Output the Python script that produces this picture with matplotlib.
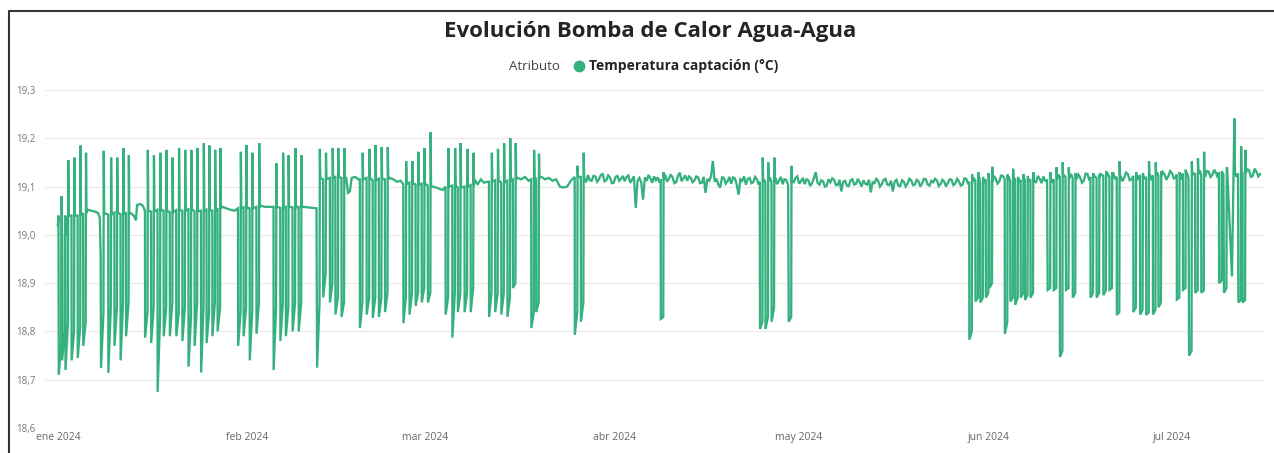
import numpy as np
import matplotlib
matplotlib.use("Agg")
import matplotlib.pyplot as plt
from matplotlib.lines import Line2D

plt.rcParams['font.family'] = ['Open Sans', 'DejaVu Sans']

verde = '#35b07f'

meses = ['2024-01-01', '2024-02-01', '2024-03-01', '2024-04-01',
         '2024-05-01', '2024-06-01', '2024-07-01']
meses_txt = ['ene 2024', 'feb 2024', 'mar 2024', 'abr 2024',
             'may 2024', 'jun 2024', 'jul 2024']
y_ticks = [18.6, 18.7, 18.8, 18.9, 19.0, 19.1, 19.2, 19.3]

# tramos estables (dias desde el 1 de enero, temperatura)
meseta_dia = [0.0, 0.1,
              4.9, 5.5, 6.1, 6.6, 6.85, 7.0,
              11.9, 12.4, 12.75, 12.95, 13.5, 13.9,
              26.9, 27.5, 28.2, 28.9,
              33.2, 33.9, 34.6,
              40.1, 40.8, 41.5, 42.25,
              47.1, 47.4, 47.7, 48.0, 48.6, 49.1,
              54.2, 54.8, 55.4, 56.0,
              61.2, 61.8, 62.4, 62.9,
              68.2, 68.6, 69.1, 69.6, 70.1,
              75.1, 75.7, 76.3, 76.9,
              79.0, 79.6, 80.2, 80.8, 81.4, 82.0, 82.6, 83.2, 83.8]
meseta_temp = [19.02, 19.04,
               19.052, 19.05, 19.048, 19.045, 19.035, 18.95,
               19.045, 19.04, 19.03, 19.062, 19.064, 19.06,
               19.058, 19.055, 19.052, 19.05,
               19.06, 19.058, 19.058,
               19.058, 19.057, 19.056, 19.055,
               19.118, 19.087, 19.09, 19.118, 19.12, 19.115,
               19.118, 19.115, 19.11, 19.112,
               19.1, 19.098, 19.095, 19.093,
               19.112, 19.105, 19.115, 19.108, 19.11,
               19.118, 19.115, 19.12, 19.112,
               19.12, 19.115, 19.118, 19.112, 19.115, 19.1, 19.098, 19.1, 19.112]

# banda con ruido desde el dia 86: una lectura cada 0.6 dias (a) y otra desfasada 0.3 dias (b)
ruido_paso = 0.6
ruido_a_ini = 86.0
ruido_a = [
    19.118, 19.124, 19.112, 19.121, 19.115, 19.126, 19.113, 19.119, 19.108, 19.122,
    19.116, 19.111, 19.123, 19.114, 19.056, 19.118, 19.073, 19.112, 19.117, 19.121,
    19.119, 19.113, 19.125, 19.116, 19.12, 19.109, 19.129, 19.117, 19.112, 19.118,
    19.113, 19.119, 19.108, 19.087, 19.112, 19.153, 19.116, 19.098, 19.118, 19.111,
    19.106, 19.117, 19.083, 19.112, 19.104, 19.118, 19.109, 19.115, 19.11, 19.113,
    19.11, 19.108, 19.118, 19.112, 19.105, 19.114, 19.116, 19.109, 19.121, 19.111,
    19.105, 19.113, 19.107, 19.13, 19.104, 19.111, 19.102, 19.109, 19.114, 19.103,
    19.09, 19.112, 19.101, 19.115, 19.106, 19.109, 19.113, 19.104, 19.088, 19.107,
    19.112, 19.105, 19.116, 19.103, 19.09, 19.114, 19.101, 19.11, 19.106, 19.113,
    19.104, 19.111, 19.107, 19.115, 19.102, 19.109, 19.113, 19.105, 19.11, 19.108,
    19.114, 19.106, 19.111, 19.104, 19.116, 19.11, 19.118, 19.107, 19.115, 19.112,
    19.12, 19.109, 19.117, 19.111, 19.122, 19.108, 19.116, 19.113, 19.121, 19.11,
    19.118, 19.112, 19.124, 19.109, 19.116, 19.121, 19.113, 19.119, 19.111, 19.125,
    19.114, 19.12, 19.108, 19.123, 19.115, 19.119, 19.112, 19.126, 19.117, 19.121,
    19.113, 19.124, 19.116, 19.12, 19.128, 19.114, 19.122, 19.118, 19.126, 19.115,
    19.123, 19.119, 19.127, 19.116, 19.124, 19.12, 19.129, 19.117, 19.125, 19.121,
    19.128, 19.118, 19.126, 19.122, 19.13, 19.119, 19.127, 19.123, 19.129, 19.12,
    19.131, 19.124, 19.128, 19.133, 19.125, np.nan, np.nan, np.nan, 19.127, 19.133,
    19.125, 19.134, 19.122, 19.131, 19.126]
ruido_b_ini = 86.3
ruido_b = [
    19.109, 19.113, 19.122, 19.11, 19.124, 19.111, 19.123, 19.107, 19.12, 19.112,
    19.122, 19.12, 19.108, 19.121, 19.112, 19.109, 19.119, 19.124, 19.108, 19.113,
    19.108, 19.121, 19.11, 19.124, 19.107, 19.122, 19.111, 19.123, 19.121, 19.109,
    19.121, 19.107, 19.12, 19.116, 19.121, 19.11, 19.104, 19.119, 19.106, 19.12,
    19.119, 19.104, 19.115, 19.121, 19.116, 19.107, 19.12, 19.104, 19.119, 19.104,
    19.119, 19.116, 19.105, 19.12, 19.115, 19.103, 19.107, 19.118, 19.106, 19.118,
    19.115, 19.101, 19.117, 19.108, 19.113, 19.1, 19.115, 19.117, 19.103, 19.114,
    19.11, 19.102, 19.113, 19.104, 19.116, 19.1, 19.106, 19.114, 19.109, 19.116,
    19.1, 19.114, 19.104, 19.112, 19.11, 19.102, 19.113, 19.1, 19.116, 19.103,
    19.114, 19.1, 19.116, 19.104, 19.112, 19.116, 19.101, 19.114, 19.1, 19.115,
    19.103, 19.116, 19.102, 19.117, 19.105, 19.119, 19.104, 19.12, 19.105, 19.121,
    19.108, 19.122, 19.106, 19.123, 19.109, 19.121, 19.105, 19.124, 19.108, 19.122,
    19.109, 19.125, 19.11, 19.122, 19.107, 19.112, 19.126, 19.108, 19.124, 19.113,
    19.124, 19.109, 19.126, 19.111, 19.125, 19.108, 19.127, 19.113, 19.124, 19.11,
    19.126, 19.112, 19.128, 19.109, 19.117, 19.127, 19.111, 19.129, 19.113, 19.127,
    19.114, 19.13, 19.115, 19.128, 19.113, 19.131, 19.116, 19.13, 19.114, 19.132,
    19.117, 19.131, 19.115, 19.133, 19.118, 19.132, 19.116, 19.134, 19.117, 19.132,
    19.12, 19.135, 19.118, 19.124, 19.136, np.nan, np.nan, 19.12, 19.135, 19.121,
    19.136, 19.12, 19.137, 19.121, np.nan]

# ciclos de la bomba: dia de la bajada, minimo, valor antes del pico, pico, nivel tras el pico
ciclo_dia = [0.15, 0.7, 1.25, 2.25, 3.25, 4.15,
             7.05, 8.25, 9.25, 10.25, 11.15,
             14.25, 15.25, 16.3, 17.3, 18.3, 19.35, 20.35, 21.35, 22.35, 23.4, 24.3, 25.25, 26.1,
             29.45, 30.35, 31.35, 32.45,
             35.25, 36.35, 37.25, 38.35, 39.35,
             42.35, 43.35, 44.45, 45.35, 46.35,
             49.35, 50.45, 51.45, 52.45, 53.45,
             56.45, 57.45, 58.45, 59.45, 60.45,
             63.35, 64.45, 65.35, 66.45, 67.45,
             70.45, 71.45, 72.45, 73.45, 74.35,
             77.35, 78.15,
             84.45, 85.45,
             98.5,
             114.7, 115.6, 116.6,
             119.4,
             148.9, 149.9, 150.7, 151.6, 152.2,
             154.7, 155.6, 156.4, 157.3, 158.0, 158.9,
             161.7, 162.7, 163.7, 164.7, 165.8,
             168.7, 169.7, 170.8, 171.8, 173.0,
             175.7, 176.8, 177.8, 178.9, 179.8,
             182.8, 183.8, 184.8, 185.8, 186.8,
             189.7, 190.5,
             192.85, 193.55]
ciclo_min = [18.71, 18.74, 18.72, 18.74, 18.745, 18.77,
             18.724, 18.714, 18.77, 18.74, 18.79,
             18.787, 18.776, 18.675, 18.79, 18.79, 18.79, 18.78, 18.727, 18.77, 18.715, 18.776, 18.79, 18.8,
             18.77, 18.79, 18.74, 18.795,
             18.72, 18.78, 18.79, 18.8, 18.8,
             18.725, 18.87, 18.86, 18.835, 18.83,
             18.807, 18.835, 18.828, 18.83, 18.84,
             18.817, 18.835, 18.853, 18.86, 18.86,
             18.835, 18.787, 18.84, 18.84, 18.84,
             18.83, 18.84, 18.835, 18.83, 18.89,
             18.807, 18.84,
             18.793, 18.82,
             18.826,
             18.805, 18.805, 18.82,
             18.82,
             18.783, 18.862, 18.86, 18.87, 18.89,
             18.795, 18.862, 18.855, 18.87, 18.865, 18.87,
             18.886, 18.886, 18.747, 18.886, 18.87,
             18.87, 18.87, 18.875, 18.886, 18.834,
             18.84, 18.835, 18.834, 18.835, 18.85,
             18.866, 18.886, 18.75, 18.88, 18.88,
             18.9, 18.88,
             18.86, 18.86]
ciclo_fin = [18.78, 18.8, 18.82, 18.8, 18.81, 18.82,
             18.84, 18.85, 18.85, 18.86, 18.86,
             18.84, 18.85, 18.83, 18.85, 18.86, 18.84, 18.85, 18.83, 18.86, 18.85, 18.84, 18.86, 18.85,
             18.84, 18.85, 18.84, 18.86,
             18.85, 18.86, 18.85, 18.86, 18.86,
             18.86, 18.92, 18.9, 18.87, 18.86,
             18.86, 18.87, 18.87, 18.87, 18.88,
             18.87, 18.88, 18.88, 18.89, 18.88,
             18.87, 18.88, 18.88, 18.88, 18.89,
             18.88, 18.88, 18.88, 18.87, 18.9,
             18.84, 18.86,
             18.84, 18.86,
             18.83,
             18.82, 18.83, 18.85,
             18.83,
             18.8, 18.87, 18.87, 18.88, 18.9,
             18.82, 18.87, 18.87, 18.88, 18.875, 18.88,
             18.89, 18.89, 18.76, 18.89, 18.88,
             18.88, 18.88, 18.885, 18.89, 18.84,
             18.85, 18.845, 18.84, 18.845, 18.86,
             18.87, 18.89, 18.76, 18.885, 18.885,
             18.905, 18.89,
             18.865, 18.865]
ciclo_pico = [19.08, 19.0, 19.155, 19.16, 19.185, 19.17,
              19.174, 19.16, 19.16, 19.18, 19.165,
              19.176, 19.165, 19.17, 19.176, 19.16, 19.18, 19.176, 19.176, 19.18, 19.19, 19.185, 19.176, 19.18,
              19.172, 19.186, 19.17, 19.19,
              19.148, 19.17, 19.165, 19.18, 19.165,
              19.178, 19.17, 19.18, 19.18, 19.18,
              19.17, 19.178, 19.186, 19.182, 19.182,
              19.153, 19.153, 19.172, 19.18, 19.213,
              19.18, 19.18, 19.19, 19.178, 19.17,
              19.17, 19.178, 19.19, 19.2, 19.19,
              19.176, 19.168,
              19.143, 19.17,
              19.13,
              19.16, 19.15, 19.16,
              19.143,
              19.125, 19.13, 19.12, 19.128, 19.141,
              19.125, 19.137, 19.12, 19.126, 19.122, 19.13,
              19.13, 19.14, 19.15, 19.14, 19.128,
              19.128, 19.125, 19.132, 19.13, 19.152,
              19.13, 19.128, 19.152, 19.15, 19.132,
              19.13, 19.135, 19.152, 19.159, 19.172,
              19.13, 19.14,
              19.183, 19.176]
ciclo_base = [19.04, 19.0, 19.04, 19.04, 19.04, 19.045,
              19.045, 19.042, 19.046, 19.043, 19.045,
              19.05, 19.048, 19.052, 19.05, 19.047, 19.051, 19.05, 19.053, 19.049, 19.05, 19.052, 19.05, 19.055,
              19.055, 19.057, 19.055, 19.058,
              19.058, 19.056, 19.058, 19.057, 19.058,
              19.118, 19.115, 19.118, 19.12, 19.118,
              19.115, 19.118, 19.113, 19.116, 19.115,
              19.105, 19.108, 19.104, 19.106, 19.102,
              19.1, 19.102, 19.098, 19.1, 19.103,
              19.11, 19.113, 19.108, 19.112, 19.115,
              19.115, 19.118,
              19.12, 19.12,
              19.115,
              19.11, 19.11, 19.11,
              19.11,
              19.11, 19.112, 19.108, 19.113, 19.11,
              19.115, 19.112, 19.117, 19.114, 19.116, 19.115,
              19.118, 19.115, 19.12, 19.117, 19.118,
              19.12, 19.118, 19.122, 19.119, 19.12,
              19.122, 19.124, 19.12, 19.123, 19.122,
              19.125, 19.127, 19.124, 19.126, 19.125,
              19.13, 19.138,
              19.128, 19.128]

# hueco de datos a mitad de julio
tramo_dia = [191.8, 192.2, 192.3]
tramo_temp = [18.914, 19.241, 19.13]

# --- montar la serie ---
ruido_a_dia = ruido_a_ini + ruido_paso * np.arange(len(ruido_a))
ruido_b_dia = ruido_b_ini + ruido_paso * np.arange(len(ruido_b))
m_dia = np.concatenate([meseta_dia, ruido_a_dia, ruido_b_dia])
m_temp = np.concatenate([meseta_temp, ruido_a, ruido_b])
ok = ~np.isnan(m_temp)
for d in ciclo_dia:
    ok &= ~((m_dia >= d - 0.02) & (m_dia < d + 0.55))
ok &= ~((m_dia > tramo_dia[0] - 0.1) & (m_dia < tramo_dia[-1] + 0.05))
m_dia, m_temp = m_dia[ok], m_temp[ok]

xs, ys = list(m_dia), list(m_temp)
for d, lo, fi, pk, b in zip(ciclo_dia, ciclo_min, ciclo_fin, ciclo_pico, ciclo_base):
    if not np.any((m_dia > d - 0.15) & (m_dia < d)):
        xs.append(d - 0.02)
        ys.append(b)
    xs += [d, d + 0.4, d + 0.45, d + 0.52]
    ys += [lo, fi, pk, b]
xs += tramo_dia
ys += tramo_temp

xs = np.array(xs)
ys = np.array(ys)
orden = np.argsort(xs, kind='stable')
inicio = np.datetime64('2024-01-01T00:00')
fechas = inicio + np.round(xs[orden] * 1440).astype(int).astype('timedelta64[m]')
temps = ys[orden]

# --- figura ---
W, H = 1274, 453
fig = plt.figure(figsize=(W / 100, H / 100), dpi=100)
ax = fig.add_axes([45 / W, 25 / H, 1220 / W, 338 / H])

ax.plot(fechas, temps, color=verde, lw=1.65, solid_joinstyle='miter')

ax.set_ylim(18.6, 19.3)
ax.set_yticks(y_ticks)
ax.set_yticklabels([f"{v:.1f}".replace('.', ',') for v in y_ticks])
ax.set_xlim(inicio - np.timedelta64(int(2.1 * 1440), 'm'),
            inicio + np.timedelta64(int(197.2 * 1440), 'm'))
ax.set_xticks([np.datetime64(m) for m in meses])
ax.set_xticklabels(meses_txt)

ax.grid(axis='y', color='#ececec', lw=0.9)
ax.set_axisbelow(True)
for s in ax.spines.values():
    s.set_visible(False)
ax.tick_params(axis='y', length=0, pad=7, labelsize=7, labelcolor='#777777')
ax.tick_params(axis='x', length=0, pad=3, labelsize=7.5, labelcolor='#666666')

fig.text(650 / W, 1 - 31 / H, 'Evolución Bomba de Calor Agua-Agua',
         ha='center', va='center', fontsize=16, fontweight='bold', color='#252423')
fig.text(509 / W, 1 - 66 / H, 'Atributo', ha='left', va='center',
         fontsize=9.5, color='#444444')
fig.add_artist(Line2D([579 / W], [1 - 66 / H], marker='o', markersize=7.5,
                      color=verde, lw=0, transform=fig.transFigure))
fig.text(589 / W, 1 - 66 / H, 'Temperatura captación (°C)', ha='left', va='center',
         fontsize=10, fontweight='bold', color='#252423')

# marco del visual
fig.add_artist(Line2D([9 / W, 9 / W, 1], [0, 1 - 11 / H, 1 - 11 / H],
                      color='#333333', lw=1.5, transform=fig.transFigure))

fig.savefig('out.png', dpi=100)
